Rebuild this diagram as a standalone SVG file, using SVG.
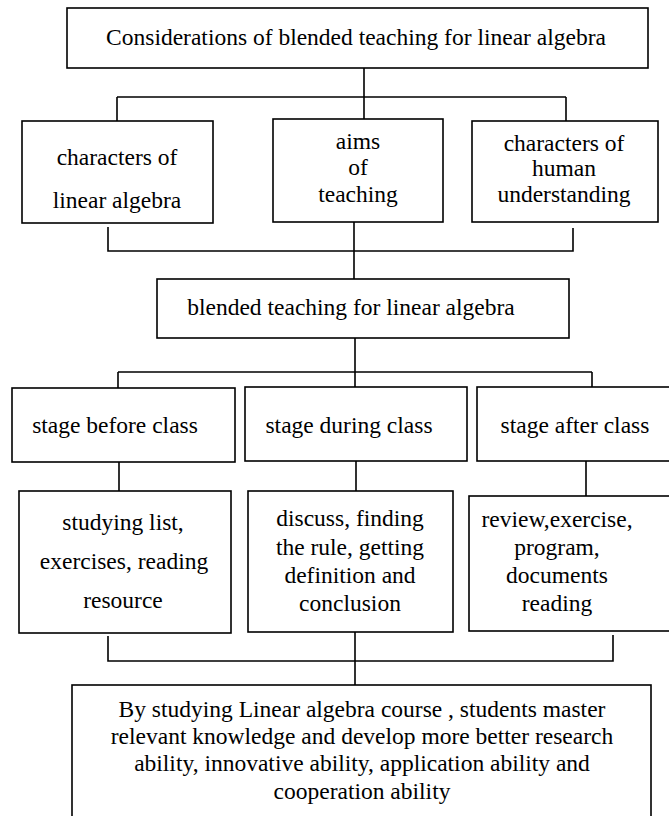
<svg xmlns="http://www.w3.org/2000/svg" width="669" height="816" viewBox="0 0 669 816">
<style>
.box{fill:#fff;stroke:#000;stroke-width:1.6}
.ln{stroke:#000;stroke-width:1.6;fill:none}
text{font-family:"Liberation Serif","Times New Roman",serif;font-size:23.5px;fill:#000;text-anchor:middle}
</style>
<rect x="0" y="0" width="669" height="816" fill="#fff"/>
<g id="connectors">
<path class="ln" d="M364 68V119M117 97H566M117 97V121M566 97V121"/>
<path class="ln" d="M108 227V251H573V228M354 222V279"/>
<path class="ln" d="M355 338V388M118 372H592M118 372V388M592 372V387"/>
<path class="ln" d="M119 462V491M356 461V491M586 461V496"/>
<path class="ln" d="M108 636V661H613V635M355 632V685"/>
</g>
<g id="n-top">
<rect class="box" x="67" y="8" width="581" height="60"/>
<text x="356" y="45">Considerations of blended teaching for linear algebra</text>
</g>
<g id="n-characters-la">
<rect class="box" x="22" y="121" width="191" height="102"/>
<text x="117" y="165">characters of</text>
<text x="117" y="208">linear algebra</text>
</g>
<g id="n-aims">
<rect class="box" x="273" y="119" width="170" height="103"/>
<text x="358" y="149">aims</text>
<text x="358" y="175">of</text>
<text x="358" y="202">teaching</text>
</g>
<g id="n-human">
<rect class="box" x="472" y="121" width="186" height="101"/>
<text x="564" y="151">characters of</text>
<text x="564" y="176">human</text>
<text x="564" y="202">understanding</text>
</g>
<g id="n-blended">
<rect class="box" x="157" y="279" width="412" height="59"/>
<text x="351" y="315">blended teaching for linear algebra</text>
</g>
<g id="n-before">
<rect class="box" x="12" y="388" width="223" height="74"/>
<text x="115" y="433">stage before class</text>
</g>
<g id="n-during">
<rect class="box" x="245" y="387" width="222" height="74"/>
<text x="349" y="433">stage during class</text>
</g>
<g id="n-after">
<rect class="box" x="477" y="387" width="200" height="74"/>
<text x="575" y="433">stage after class</text>
</g>
<g id="n-studying">
<rect class="box" x="19" y="491" width="212" height="142"/>
<text x="123" y="530">studying list,</text>
<text x="124" y="569">exercises, reading</text>
<text x="123" y="608">resource</text>
</g>
<g id="n-discuss">
<rect class="box" x="248" y="491" width="205" height="141"/>
<text x="350" y="526">discuss, finding</text>
<text x="350" y="555">the rule, getting</text>
<text x="350" y="583">definition and</text>
<text x="350" y="611">conclusion</text>
</g>
<g id="n-review">
<rect class="box" x="469" y="496" width="208" height="135"/>
<text x="557" y="527">review,exercise,</text>
<text x="557" y="555">program,</text>
<text x="557" y="583">documents</text>
<text x="557" y="611">reading</text>
</g>
<g id="n-result">
<rect class="box" x="72" y="685" width="579" height="140"/>
<text x="362" y="717">By studying Linear algebra course , students master</text>
<text x="362" y="744">relevant knowledge and develop more better research</text>
<text x="362" y="771">ability, innovative ability, application ability and</text>
<text x="362" y="799">cooperation ability</text>
</g>
</svg>
